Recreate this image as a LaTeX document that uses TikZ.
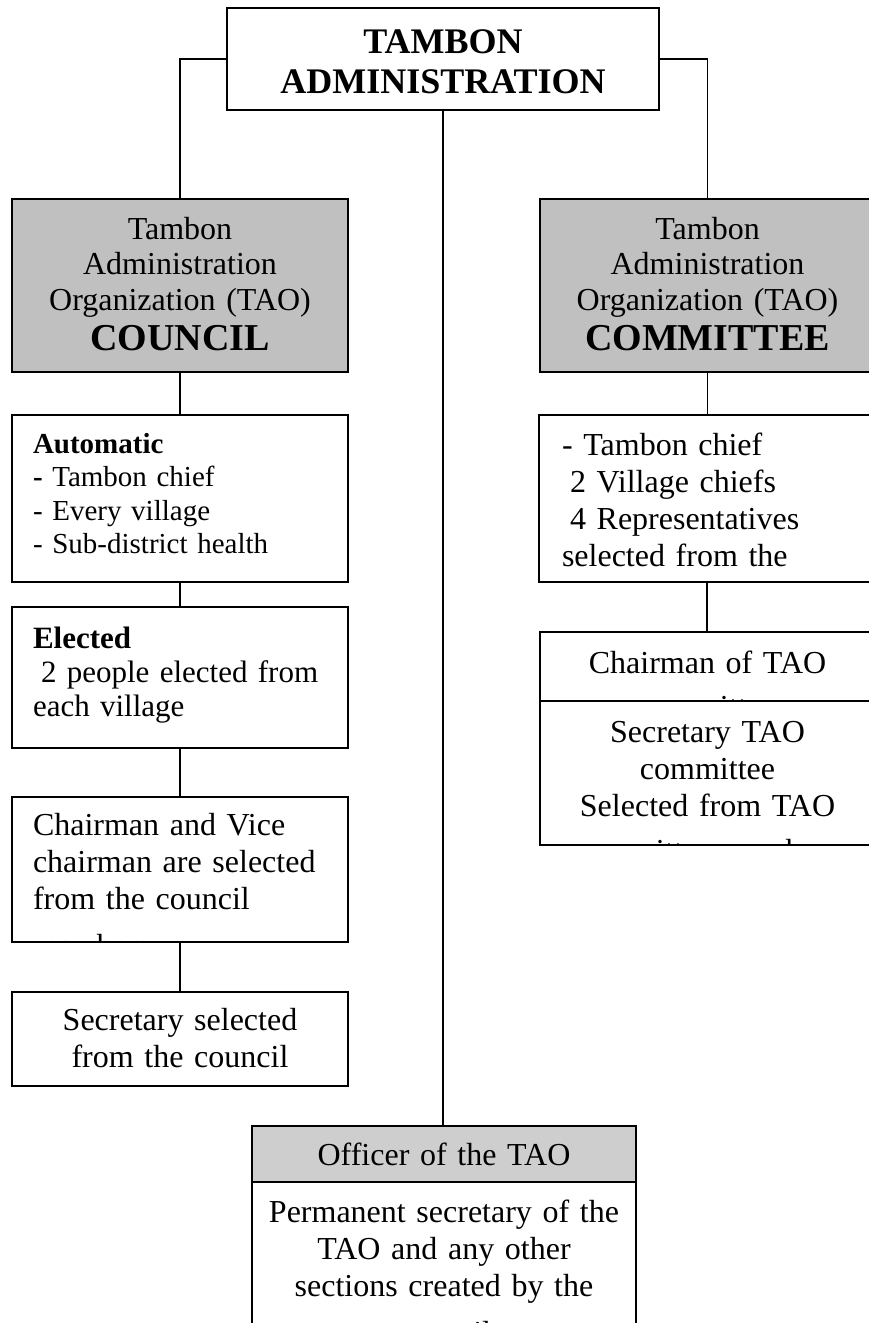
\documentclass[tikz,border=0pt]{standalone}
\usepackage{fontspec}
\setmainfont{Liberation Serif}
\definecolor{cgray}{RGB}{192,192,192}
\definecolor{ogray}{RGB}{206,206,206}
\newcommand\firstl{\rule{0pt}{30pt}}
\newcommand\fbody{\fontsize{32}{37}\selectfont}
\newcommand\fgray{\fontsize{32}{35.5}\selectfont}
\newcommand\fsmall{\fontsize{29}{33.5}\selectfont}
\newcommand\felect{\fontsize{31}{34}\selectfont}
\newcommand\ftop{\fontsize{36}{40}\selectfont\bfseries}
\newcommand\fhead{\fontsize{38}{42}\selectfont\bfseries}
\tikzset{
  box/.style={draw, line width=1.8pt, inner sep=0pt, outer sep=0pt, anchor=north west},
  conn/.style={line width=1.8pt},
  ctxt/.style={inner sep=0pt, outer sep=0pt, anchor=north, align=center},
  ltxt/.style={inner sep=0pt, outer sep=0pt, anchor=north west, align=left},
}
\begin{document}
\begin{tikzpicture}[x=1pt,y=-1pt]
\useasboundingbox (0,0) rectangle (869,1323);
\clip (0,0) rectangle (869,1323);
% boxes
\node[box, minimum width=432, minimum height=102] (T) at (227,8) {};
\node[box, fill=cgray, minimum width=336, minimum height=173] (CL) at (12,199) {};
\node[box, fill=cgray, minimum width=335, minimum height=173] (CM) at (540,199) {};
\node[box, minimum width=336, minimum height=167] (A) at (12,415) {};
\node[box, minimum width=336, minimum height=141] (E) at (12,607) {};
\node[box, minimum width=336, minimum height=145] (CH) at (12,797) {};
\node[box, minimum width=336, minimum height=94] (S) at (12,992) {};
\node[box, minimum width=336, minimum height=167] (R) at (539,415) {};
\node[box, minimum width=335, minimum height=69] (CT) at (540,632) {};
\node[box, minimum width=335, minimum height=144] (ST) at (540,701) {};
\node[box, fill=ogray, minimum width=384, minimum height=56] (O) at (252,1126) {};
\node[box, minimum width=384, minimum height=180] (P) at (252,1182) {};
% connectors
\draw[conn] (T.west) -| (CL.north);
\draw[conn] (T.east) -| (CM.north);
\draw[conn] (T.south) -- (T.south |- O.north);
\draw[conn] (CL.south) -- (A.north);
\draw[conn] (A.south) -- (E.north);
\draw[conn] (E.south) -- (CH.north);
\draw[conn] (CH.south) -- (S.north);
\draw[conn] (CM.south) -- (CM.south |- R.north);
\draw[conn] (R.south) -- (R.south |- CT.north);
% texts
\begin{scope}\clip (227,8) rectangle (659,110);
\node[ctxt, text width=432, font=\ftop] (tT) at (443,23) {\firstl TAMBON\\ADMINISTRATION};
\end{scope}
\begin{scope}\clip (12,199) rectangle (348,372);
\node[ctxt, text width=336, font=\fgray] (tCL) at (180,209) {\firstl Tambon\\Administration\\Organization (TAO)\\[5pt]{\fhead COUNCIL}};
\end{scope}
\begin{scope}\clip (540,199) rectangle (875,372);
\node[ctxt, text width=335, font=\fgray] (tCM) at (707.5,209) {\firstl Tambon\\Administration\\Organization (TAO)\\[5pt]{\fhead COMMITTEE}};
\end{scope}
\begin{scope}\clip (12,415) rectangle (348,582);
\node[ltxt, text width=310, font=\fsmall] (tA) at (33,423) {\firstl\textbf{Automatic}\\\textbf{-} Tambon chief\\- Every village\\- Sub-district health};
\end{scope}
\begin{scope}\clip (12,607) rectangle (348,748);
\node[ltxt, text width=310, font=\felect] (tE) at (33,618) {\firstl\textbf{Elected}\\\hspace*{8pt}2 people elected from\\each village};
\end{scope}
\begin{scope}\clip (12,797) rectangle (348,942);
\node[ltxt, text width=310, font=\fbody] (tCH) at (33,805) {\firstl Chairman and Vice\\chairman are selected\\from the council\\[10pt]members};
\end{scope}
\begin{scope}\clip (12,992) rectangle (348,1086);
\node[ctxt, text width=336, font=\fbody] (tS) at (180,1000) {\firstl Secretary selected\\from the council};
\end{scope}
\begin{scope}\clip (539,415) rectangle (875,582);
\node[ltxt, text width=310, font=\fbody] (tR) at (562,425) {\firstl - Tambon chief\\\hspace*{8pt}2 Village chiefs\\\hspace*{8pt}4 Representatives\\selected from the};
\end{scope}
\begin{scope}\clip (540,632) rectangle (875,701);
\node[ctxt, text width=335, font=\fbody] (tCT) at (707.5,643) {\firstl Chairman of TAO\\[7pt]committee};
\end{scope}
\begin{scope}\clip (540,701) rectangle (875,845);
\node[ctxt, text width=335, font=\fbody] (tST) at (707.5,712) {\firstl Secretary TAO\\committee\\Selected from TAO\hspace*{42pt}\\[8pt]committee members};
\end{scope}
\begin{scope}\clip (252,1126) rectangle (636,1182);
\node[ctxt, text width=384, font=\fbody] (tO) at (444,1135) {\firstl Officer of the TAO};
\end{scope}
\begin{scope}\clip (252,1182) rectangle (636,1330);
\node[ctxt, text width=384, font=\fbody] (tP) at (444,1192) {\firstl Permanent secretary of the\\TAO and any other\\sections created by the\\[10pt]council};
\end{scope}
\end{tikzpicture}
\end{document}
